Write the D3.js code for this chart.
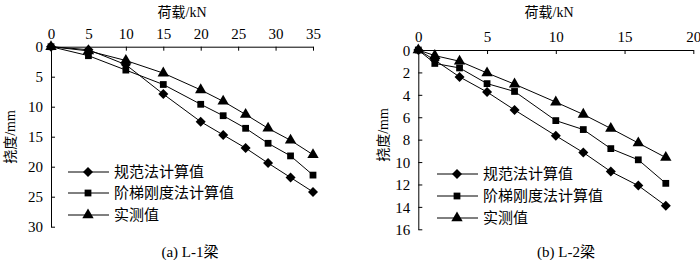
<!DOCTYPE html>
<html><head><meta charset="utf-8">
<script src="https://cdn.jsdelivr.net/npm/d3@7"></script>
<style>body{margin:0;background:#fff}svg{display:block}</style>
</head><body>
<svg id="c" width="700" height="260"></svg>
<script>
// Chart (a) L-1 beam
const loadA = [0, 5, 10, 15, 20, 23, 26, 29, 32, 35];
const codeA = [0, 0.5, 3.0, 7.9, 12.5, 14.7, 16.9, 19.4, 21.8, 24.2];
const stepA = [0, 1.5, 3.9, 6.3, 9.6, 11.5, 13.6, 16.1, 18.2, 21.4];
const testA = [0, 0.7, 2.3, 4.4, 7.2, 9.1, 11.3, 13.6, 15.6, 18.0];
const xTicksA = [0, 5, 10, 15, 20, 25, 30, 35];
const yTicksA = [0, 5, 10, 15, 20, 25, 30];
// Chart (b) L-2 beam
const loadB = [0, 1.2, 3, 5, 7, 10, 12, 14, 16, 18];
const codeB = [0, 0.9, 2.4, 3.75, 5.35, 7.65, 9.15, 10.85, 12.1, 13.9];
const stepB = [0, 1.2, 1.6, 3.0, 3.7, 6.3, 7.1, 8.8, 9.8, 11.9];
const testB = [0, 0.5, 1.0, 2.05, 3.05, 4.65, 5.75, 7.0, 8.3, 9.6];
const xTicksB = [0, 5, 10, 15, 20];
const yTicksB = [0, 2, 4, 6, 8, 10, 12, 14, 16];
const seriesNames = ["规范法计算值", "阶梯刚度法计算值", "实测值"];
const xTitle = "荷载/kN", yTitle = "挠度/mm";

const svg = d3.select("#c");
const serif = "'Liberation Serif','Times New Roman',serif";
const mixed = "'Liberation Serif','Noto Sans CJK SC',serif";
const cjk = "'Noto Sans CJK SC',sans-serif";
const wideDiamond = {draw(ctx, size) {
  const r = Math.sqrt(size / 2);
  ctx.moveTo(0, -r); ctx.lineTo(r, 0); ctx.lineTo(0, r); ctx.lineTo(-r, 0); ctx.closePath();
}};
const symbols = [wideDiamond, d3.symbolSquare, d3.symbolTriangle];
const symSizes = [50, 46, 56];

function panel(cfg) {
  const g = svg.append("g");
  const x = d3.scaleLinear().domain(cfg.xDom).range(cfg.xr);
  const y = d3.scaleLinear().domain(cfg.yDom).range(cfg.yr);
  const xa = g.append("g").attr("transform", `translate(0,${cfg.yr[0]})`)
    .call(d3.axisTop(x).tickValues(cfg.xTicks).tickSizeInner(-4).tickSizeOuter(0).tickPadding(8));
  const ya = g.append("g").attr("transform", `translate(${cfg.xr[0]},0)`)
    .call(d3.axisLeft(y).tickValues(cfg.yTicks).tickSizeInner(-4).tickSizeOuter(0).tickPadding(8));
  [xa, ya].forEach(a => {
    a.selectAll("path").attr("stroke", "#000").attr("stroke-width", 1);
    a.selectAll("line").attr("stroke", "#000");
    a.selectAll("text").attr("font-family", serif).attr("font-size", 15).attr("fill", "#000");
  });
  ya.selectAll("text").attr("dy", "0.35em");
  g.append("text").attr("x", cfg.xTitleX).attr("y", 17).attr("text-anchor", "middle")
    .attr("font-family", mixed).attr("font-size", 14).text(xTitle);
  g.append("text").attr("transform", `translate(${cfg.yTitleX},${cfg.yTitleY}) rotate(-90)`)
    .attr("text-anchor", "middle").attr("font-family", mixed).attr("font-size", 14).text(yTitle);
  g.append("text").attr("x", cfg.capX).attr("y", 257).attr("text-anchor", "middle")
    .attr("font-family", mixed).attr("font-size", 15).text(cfg.caption);
  const line = d3.line().x(d => x(d[0])).y(d => y(d[1]));
  cfg.series.forEach((vals, i) => {
    const pts = cfg.load.map((l, j) => [l, vals[j]]);
    g.append("path").datum(pts).attr("d", line).attr("fill", "none").attr("stroke", "#000").attr("stroke-width", 1);
    g.selectAll(null).data(pts).enter().append("path")
      .attr("transform", d => `translate(${x(d[0])},${y(d[1])})`)
      .attr("d", d3.symbol().type(symbols[i]).size(symSizes[i])).attr("fill", "#000");
  });
  seriesNames.forEach((n, i) => {
    const ly = cfg.legY[i];
    g.append("line").attr("x1", cfg.legX).attr("x2", cfg.legX + 41).attr("y1", ly).attr("y2", ly).attr("stroke", "#000");
    g.append("path").attr("transform", `translate(${cfg.legX + 20},${ly})`)
      .attr("d", d3.symbol().type(symbols[i]).size(symSizes[i])).attr("fill", "#000");
    g.append("text").attr("x", cfg.legX + 46).attr("y", ly).attr("dy", "0.35em")
      .attr("font-family", cjk).attr("font-size", 15).text(n);
  });
}

panel({xDom: [0, 35], xr: [51, 313], yDom: [0, 30], yr: [46.7, 226.7],
  xTicks: xTicksA, yTicks: yTicksA, load: loadA, series: [codeA, stepA, testA],
  xTitleX: 182, yTitleX: 15, yTitleY: 137, capX: 190, caption: "(a) L-1梁",
  legX: 68, legY: [172, 193, 215]});
panel({xDom: [0, 20], xr: [418.3, 693.3], yDom: [0, 16], yr: [50, 229.3],
  xTicks: xTicksB, yTicks: yTicksB, load: loadB, series: [codeB, stepB, testB],
  xTitleX: 549, yTitleX: 388, yTitleY: 135, capX: 566, caption: "(b) L-2梁",
  legX: 437, legY: [174, 196, 218]});
</script>
</body></html>
